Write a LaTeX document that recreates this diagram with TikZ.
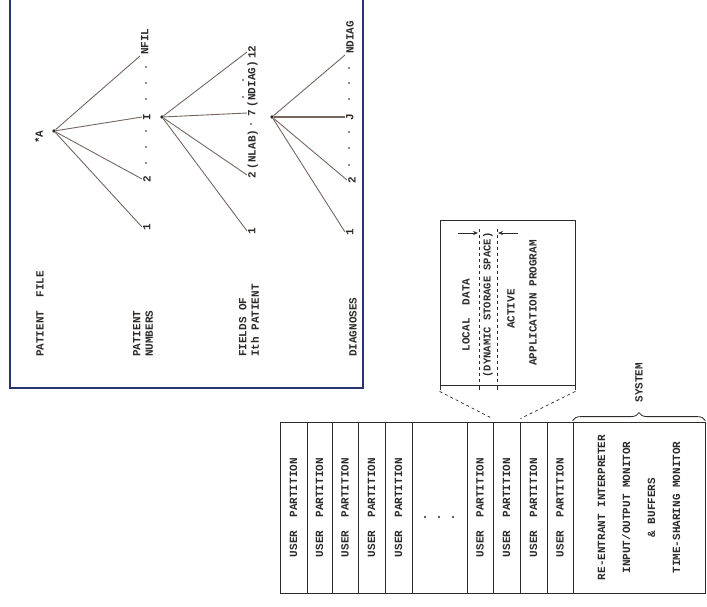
\documentclass[tikz,border=0pt]{standalone}
\usepackage{fontspec}
\setmonofont{Liberation Mono}
\usetikzlibrary{arrows.meta,calc,decorations.pathreplacing}
\definecolor{ink}{RGB}{45,42,40}
\definecolor{twig}{RGB}{118,102,96}
\definecolor{navy}{RGB}{38,52,112}
\begin{document}
\begin{tikzpicture}[x=1pt,y=-1pt,>=Stealth,txt/.style={font=\ttfamily\bfseries\fontsize{11}{12.5}\selectfont,text=ink,rotate=90,inner sep=1pt},heading/.style={txt,anchor=west,align=left},leaf/.style={txt,anchor=north},point/.style={circle,fill=ink,inner sep=1.3pt},branch/.style={draw=twig,line width=0.9pt},frame/.style={draw=navy,line width=1.8pt},part/.style={txt,draw=ink,line width=0.8pt,minimum width=171pt,inner sep=0pt},zoomline/.style={draw=ink,dash pattern=on 3pt off 3pt,line width=0.7pt},arrow/.style={draw=ink,-{Stealth[length=5pt,width=4pt]},line width=0.8pt}]
\useasboundingbox (0,0) rectangle (707,606);
% patient file tree
\draw[frame] (10,-5)--(10,388)--(363,388)--(363,-5);
\node[heading] (hfile) at (40,358) {PATIENT\ \ FILE}; \node[heading] (hnum) at (143,358) {PATIENT\\NUMBERS};
\node[heading] (hfld) at (249,358) {FIELDS OF\\Ith PATIENT}; \node[heading] (hdia) at (353,358) {DIAGNOSES};
\node[point] (r1) at (54,131) {}; \node[txt] (star) at (39,137) {*A};
\node[leaf] (p1) at (142,227) {1}; \node[leaf] (p2) at (142,179) {2}; \node[leaf] (pI) at (142,117) {I}; \node[leaf,anchor=north west] (pN) at (140,56) {NFIL};
\draw[branch] (r1)--(p1.north); \draw[branch] (r1)--(p2.north); \draw[branch] (r1)--(pI.north); \draw[branch] (r1)--(pN.north west);
\foreach \y in {163,147,131,99,83,67} \fill[twig] (146,\y) circle (1.1pt);
\node[point] (r2) at (162,117) {};
\node[leaf] (f1) at (247,231) {1}; \node[leaf] (f2) at (247,175) {2}; \node[txt,anchor=base west] (nlab) at (f2.base east) {(NLAB)};
\node[leaf] (f7) at (247,113) {7}; \node[txt,anchor=base west] (ndg) at (f7.base east) {(NDIAG)}; \node[leaf] (f12) at (247,52) {12};
\draw[branch] (r2)--(f1.north); \draw[branch] (r2)--(f2.north); \draw[branch] (r2)--(f7.north); \draw[branch] (r2)--(f12.north);
\foreach \x/\y in {251/124,243/97,243/80} \fill[twig] (\x,\y) circle (1.1pt);
\node[point] (r3) at (272,117) {};
\node[leaf] (d1) at (345,232) {1}; \node[leaf] (d2) at (347,180) {2}; \node[leaf] (dJ) at (345,117) {J}; \node[leaf,anchor=north west] (dN) at (345,55) {NDIAG};
\draw[branch] (r3)--(d1.north); \draw[branch] (r3)--(d2.north); \draw[branch,line width=1.3pt] (r3)--(dJ.north); \draw[branch] (r3)--(dN.north west);
\foreach \y in {165,148,132,99,83,68} \fill[twig] (349,\y) circle (1.1pt);
% memory partitions
\node[part,minimum height=27pt] (u1) at (293.5,507.5) {USER\ \ PARTITION}; \node[part,minimum height=25pt] (u2) at (319.5,507.5) {USER\ \ PARTITION};
\node[part,minimum height=26pt] (u3) at (345,507.5) {USER\ \ PARTITION}; \node[part,minimum height=27pt] (u4) at (371.5,507.5) {USER\ \ PARTITION};
\node[part,minimum height=27pt] (u5) at (398.5,507.5) {USER\ \ PARTITION}; \node[part,minimum height=55pt] (ud) at (439.5,507.5) {};
\foreach \x in {425,439,453} \fill[ink] (\x,517) circle (1.1pt);
\node[part,minimum height=26pt] (u6) at (480,507.5) {USER\ \ PARTITION}; \node[part,minimum height=27pt] (u7) at (506.5,507.5) {USER\ \ PARTITION};
\node[part,minimum height=27pt] (u8) at (533.5,507.5) {USER\ \ PARTITION}; \node[part,minimum height=26pt] (u9) at (560,507.5) {USER\ \ PARTITION};
\node[part,minimum height=132pt,align=center,font=\ttfamily\bfseries\fontsize{11}{25}\selectfont] (sys) at (639,507.5) {RE-ENTRANT INTERPRETER\\INPUT/OUTPUT MONITOR\\\&\ BUFFERS\\TIME-SHARING MONITOR};
\draw[draw=ink,line width=0.8pt,decorate,decoration={brace,amplitude=8pt}] ([yshift=1pt]sys.north east)--([yshift=1pt]sys.south east);
\node[txt,anchor=west] (syslab) at ([yshift=18pt]sys.east) {SYSTEM};
% active partition
\node[draw=ink,line width=0.8pt,minimum width=135pt,minimum height=165pt,inner sep=0pt] (act) at (507.5,302.5) {};
\node[txt] (loc) at (466,315) {LOCAL\ \ DATA}; \node[txt,font=\ttfamily\bfseries\fontsize{10.5}{12}\selectfont] (dyn) at (488,305) {(DYNAMIC STORAGE SPACE)};
\node[txt] (acv) at (511,309) {ACTIVE}; \node[txt] (app) at (533,303) {APPLICATION PROGRAM};
\draw[zoomline] (479,229)--(479,385); \draw[zoomline] (497,229)--(497,385);
\draw[arrow] (458,233)--(478,233); \draw[arrow] (518,233)--(498,233);
\foreach \x in {440,479,497,575} \draw[ink,line width=0.8pt] (\x,385)--(\x,390);
\draw[zoomline] ([yshift=-6pt]act.south west)--([yshift=3pt]u7.north east); \draw[zoomline] ([yshift=-6pt]act.south east)--([yshift=3pt]u7.south east);
\end{tikzpicture}
\end{document}
